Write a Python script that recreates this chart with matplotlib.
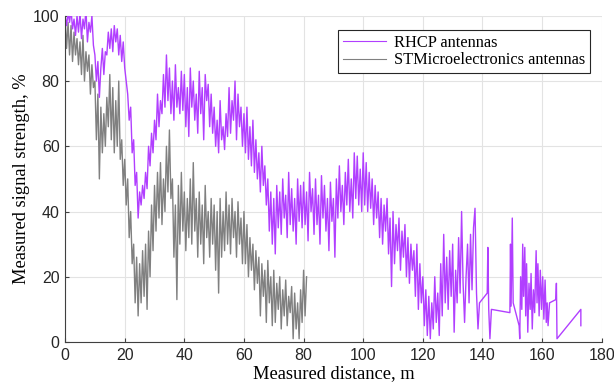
import matplotlib
matplotlib.use('Agg')
import matplotlib.pyplot as plt
import numpy as np

# RHCP antennas, sampled every 0.5 m from 0 to 138.5 m
rhcp_dense = [
    100, 97, 101, 98, 102, 96, 99, 94, 100, 95, 101, 93, 99, 96, 102, 92, 98, 95, 100, 91,
    88, 80, 86, 75, 84, 90, 82, 89, 88, 95, 90, 96, 89, 97, 92, 96, 88, 94, 86, 92,
    84, 80, 76, 68, 72, 58, 62, 48, 52, 38, 46, 42, 48, 44, 52, 47, 60, 54, 64, 58,
    68, 62, 76, 66, 74, 70, 82, 72, 88, 74, 84, 70, 80, 68, 85, 72, 78, 70, 83, 71,
    82, 66, 78, 63, 84, 72, 80, 68, 76, 64, 83, 70, 78, 62, 82, 74, 79, 66, 76, 64,
    72, 60, 68, 58, 74, 62, 66, 59, 70, 63, 78, 64, 74, 68, 80, 62, 76, 66, 72, 60,
    70, 58, 72, 56, 66, 54, 68, 52, 62, 50, 58, 46, 60, 48, 54, 42, 50, 34, 46, 30,
    44, 27, 48, 35, 46, 33, 50, 38, 45, 32, 52, 36, 47, 34, 44, 30, 50, 37, 48, 35,
    49, 36, 46, 31, 52, 40, 47, 33, 50, 36, 45, 30, 51, 38, 48, 34, 44, 28, 49, 37,
    44, 26, 50, 38, 54, 40, 48, 36, 52, 42, 56, 40, 50, 38, 58, 44, 57, 42, 53, 40,
    58, 42, 55, 40, 52, 41, 50, 36, 48, 38, 46, 32, 44, 30, 42, 34, 44, 27, 38, 17,
    40, 24, 36, 28, 38, 22, 34, 26, 36, 20, 32, 18, 30, 22, 28, 14, 30, 10, 24, 12,
    20, 5, 16, 2, 14, 1, 12, 4, 20, 6, 15, 2, 24, 8, 33, 12, 26, 10, 28, 14,
    30, 3, 22, 12, 32, 15, 40, 18, 6, 20, 30, 12, 33, 16, 35, 41, 15, 4,
]
# sparse measurements after 139 m
rhcp_tail_x = [139, 141.6, 141.8, 142.1, 142.5, 143, 149.2, 149.4, 149.6, 150, 150.3,
               152.3, 152.5, 152.8, 153.2, 153.5, 153.8, 154.2, 154.5, 154.8, 155.2,
               155.6, 156, 156.3, 156.7, 157.1, 157.5, 158, 158.3, 158.6, 159, 159.4,
               159.8, 160.2, 160.6, 161, 161.4, 161.7, 162, 162.5, 164.6, 164.8, 165,
               173, 173]
rhcp_tail_y = [12, 15, 29, 10, 1, 10, 9, 30, 11, 38, 12,
               5, 1, 20, 10, 30, 14, 29, 8, 24, 3,
               18, 10, 21, 4, 16, 9, 28, 12, 24, 8, 22,
               10, 20, 7, 19, 6, 12, 5, 12, 13, 18, 1,
               10, 5]

# STMicroelectronics antennas, sampled every 0.5 m from 0 to 81 m
stm_dense = [
    100, 90, 98, 88, 97, 86, 95, 88, 93, 85, 92, 82, 94, 80, 89, 83, 88, 76, 85, 78,
    80, 62, 76, 50, 72, 58, 70, 60, 75, 66, 82, 62, 78, 58, 74, 60, 80, 56, 62, 48,
    56, 42, 50, 32, 40, 24, 30, 12, 26, 8, 24, 12, 28, 14, 30, 10, 34, 20, 42, 28,
    48, 34, 52, 38, 55, 36, 50, 40, 60, 46, 65, 44, 50, 26, 42, 13, 48, 30, 52, 34,
    46, 28, 44, 32, 50, 30, 55, 34, 44, 26, 46, 30, 42, 24, 48, 32, 40, 26, 44, 30,
    42, 22, 40, 15, 44, 26, 40, 28, 46, 30, 42, 27, 44, 32, 40, 26, 43, 30, 38, 24,
    40, 24, 36, 20, 32, 22, 30, 16, 28, 18, 26, 8, 24, 14, 22, 6, 25, 12, 20, 5,
    22, 6, 18, 10, 20, 4, 16, 8, 19, 5, 14, 9, 17, 1, 15, 4, 12, 1, 16, 6,
    22, 8, 20,
]

rhcp_x = np.concatenate([np.arange(len(rhcp_dense)) * 0.5, rhcp_tail_x])
rhcp_y = np.concatenate([rhcp_dense, rhcp_tail_y])
stm_x = np.arange(len(stm_dense)) * 0.5
stm_y = np.array(stm_dense)

fig = plt.figure(figsize=(6.14, 3.86), dpi=100)
ax = fig.add_axes([0.106, 0.114, 0.874, 0.845])

h_stm, = ax.plot(stm_x, stm_y, color='#808080', linewidth=1.0,
                 label='STMicroelectronics antennas')
h_rhcp, = ax.plot(rhcp_x, rhcp_y, color='#B13FFF', linewidth=1.0,
                  label='RHCP antennas')

ax.set_xlim(0, 180)
ax.set_ylim(0, 100)
ax.set_xticks(np.arange(0, 181, 20))
ax.set_yticks(np.arange(0, 101, 20))
ax.grid(True, color='#e3e3e3', linewidth=0.8)
ax.set_axisbelow(True)

for s in ['top', 'right']:
    ax.spines[s].set_visible(False)
for s in ['left', 'bottom']:
    ax.spines[s].set_color('#404040')
    ax.spines[s].set_linewidth(0.8)

ax.tick_params(direction='in', length=3, color='#404040', labelcolor='#262626',
               labelsize=11.5, pad=4)
for lbl in ax.get_xticklabels() + ax.get_yticklabels():
    lbl.set_fontfamily('Liberation Sans')

serif = 'Liberation Serif'
ax.set_xlabel('Measured distance, m', fontsize=13.3, fontfamily=serif, labelpad=2)
ax.set_ylabel('Measured signal strength, %', fontsize=13.3, fontfamily=serif, labelpad=2)

leg = ax.legend(handles=[h_rhcp, h_stm], loc='upper right',
                bbox_to_anchor=(0.978, 0.957), borderaxespad=0,
                prop={'family': serif, 'size': 11.8}, fancybox=False,
                framealpha=1, edgecolor='#262626', handlelength=2.6,
                borderpad=0.3, labelspacing=0.1, handletextpad=0.5)
leg.get_frame().set_linewidth(0.8)
for line in leg.get_lines():
    line.set_linewidth(0.8)

fig.savefig('out.png', dpi=100)
